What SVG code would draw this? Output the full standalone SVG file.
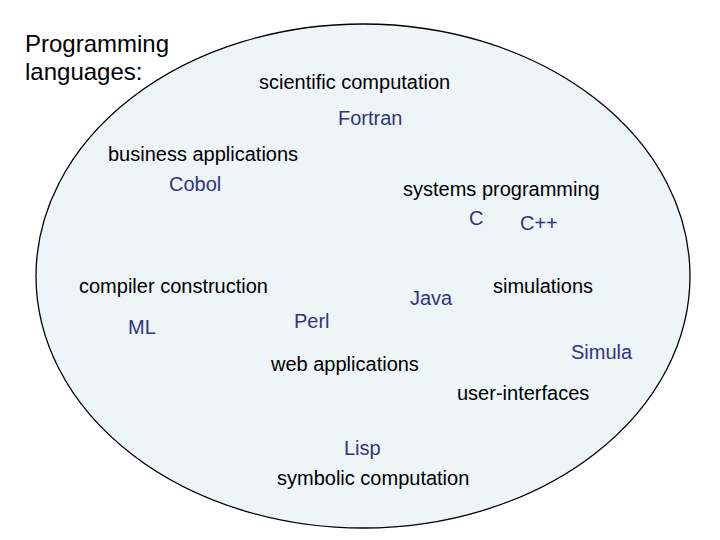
<svg xmlns="http://www.w3.org/2000/svg" width="720" height="540" viewBox="0 0 720 540">
<style>
text{font-family:"Liberation Sans",Arial,sans-serif;font-size:20px}
.d{fill:#000}
.l{fill:#333380}
</style>
<rect width="720" height="540" fill="#fff"/>
<g id="set"><ellipse cx="363" cy="276" rx="327" ry="252" fill="#edf5f7" stroke="#000" stroke-width="1.3"/></g>
<g id="title"><text x="25" y="52" style="font-size:24px">Programming</text><text x="25" y="80" style="font-size:24px">languages:</text></g>
<g id="scientific"><text class="d" x="259" y="89">scientific computation</text></g>
<g id="fortran"><text class="l" x="338" y="125">Fortran</text></g>
<g id="business"><text class="d" x="108" y="161">business applications</text></g>
<g id="cobol"><text class="l" x="169" y="191">Cobol</text></g>
<g id="systems"><text class="d" x="403" y="196">systems programming</text></g>
<g id="c"><text class="l" x="469" y="225">C</text></g>
<g id="cpp"><text class="l" x="520" y="230">C++</text></g>
<g id="compiler"><text class="d" x="79" y="293">compiler construction</text></g>
<g id="java"><text class="l" x="410" y="305">Java</text></g>
<g id="simulations"><text class="d" x="493" y="293">simulations</text></g>
<g id="ml"><text class="l" x="128" y="334">ML</text></g>
<g id="perl"><text class="l" x="294" y="328">Perl</text></g>
<g id="simula"><text class="l" x="571" y="359">Simula</text></g>
<g id="web"><text class="d" x="271" y="371">web applications</text></g>
<g id="ui"><text class="d" x="457" y="400">user-interfaces</text></g>
<g id="lisp"><text class="l" x="344" y="455">Lisp</text></g>
<g id="symbolic"><text class="d" x="277" y="485">symbolic computation</text></g>
</svg>
